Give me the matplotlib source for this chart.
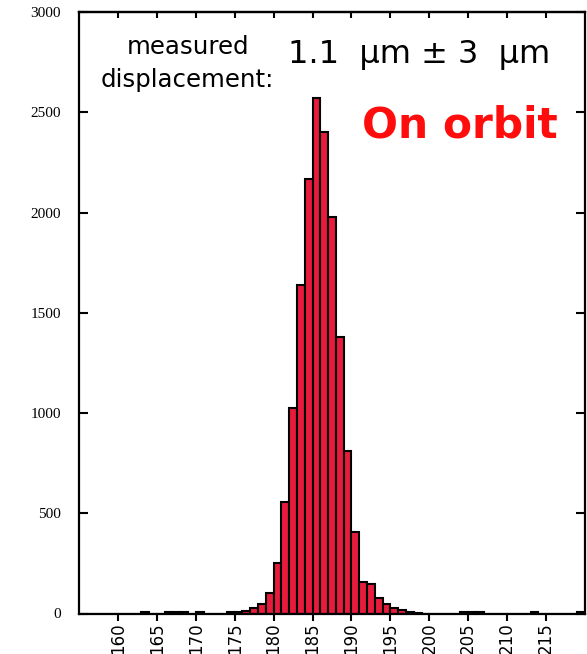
import matplotlib
matplotlib.use("Agg")
import matplotlib.pyplot as plt
import numpy as np

# Histogram of measured positions, 1-unit bins starting at each left edge
bin_left = list(range(155, 220))
counts = [
    0, 0, 0, 0, 0, 0, 0, 0, 8, 0,          # 155-164
    0, 8, 8, 8, 0, 8, 0, 0, 0, 5,          # 165-174
    8, 12, 25, 48, 100, 250, 555, 1025, 1640, 2165,   # 175-184
    2570, 2400, 1980, 1380, 812, 407, 158, 145, 76, 46,  # 185-194
    26, 15, 6, 4, 0, 0, 0, 0, 0, 8,        # 195-204
    8, 8, 0, 0, 0, 0, 0, 0, 8, 0,          # 205-214
    0, 0, 0, 0, 8,                         # 215-219
]
x_ticks = list(range(160, 220, 5))
y_ticks = list(range(0, 3001, 500))

W, H = 587, 654
fig = plt.figure(figsize=(W / 100, H / 100), dpi=100)
fig.patch.set_facecolor("white")

left, right, bottom, top = 79, 585, 613.5, 12
ax = fig.add_axes([left / W, 1 - bottom / H, (right - left) / W, (bottom - top) / H])

ax.bar(bin_left, counts, width=1.0, align="edge", color="#E81B3D",
       edgecolor="black", linewidth=1.5, zorder=2)

ax.set_xlim(155, 220)
ax.set_ylim(0, 3000)

for s in ax.spines.values():
    s.set_linewidth(1.6)
    s.set_zorder(3)

ax.set_xticks(x_ticks)
ax.set_xticklabels([str(t) for t in x_ticks], rotation=90, fontsize=12,
                   family="DejaVu Sans")
ax.tick_params(axis="x", direction="out", length=5, width=1.5, pad=1.5,
               bottom=True, top=False)

ax.set_yticks(y_ticks)
ax.set_yticklabels([str(t) for t in y_ticks], fontsize=11,
                   family="Liberation Serif")
ax.tick_params(axis="y", direction="in", length=6.5, width=1.5, pad=13,
               left=True, right=True)

# top ticks point inward
top_ax = ax.secondary_xaxis("top")
top_ax.set_xticks(x_ticks)
top_ax.tick_params(direction="in", length=4, width=1.5, labeltop=False)
top_ax.spines["top"].set_linewidth(1.6)

def fx(px):
    return px / W

def fy(py):
    return 1 - py / H

fig.text(fx(188), fy(47), "measured", ha="center", va="center",
         fontsize=17.6, family="DejaVu Sans")
fig.text(fx(187), fy(80), "displacement:", ha="center", va="center",
         fontsize=17.6, family="DejaVu Sans")
fig.text(fx(419), fy(55), "1.1  \u00b5m \u00b1 3  \u00b5m", ha="center", va="center",
         fontsize=23, family="DejaVu Sans")
fig.text(fx(460), fy(126), "On orbit", ha="center", va="center",
         fontsize=30.5, fontweight="bold", color="#FF0D0D", family="DejaVu Sans")

fig.savefig("out.png", dpi=100, facecolor="white")
